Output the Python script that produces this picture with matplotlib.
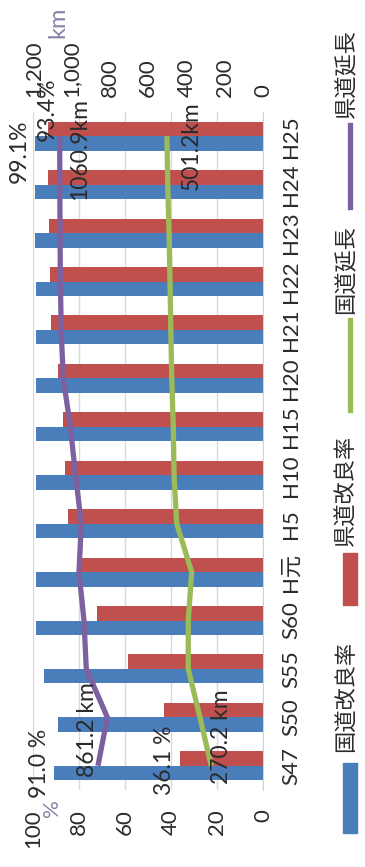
import numpy as np
import matplotlib.pyplot as plt
from matplotlib.patches import Rectangle
from matplotlib.lines import Line2D

plt.rcParams['font.family'] = ['Lato', 'Noto Sans CJK JP', 'DejaVu Sans']

years = ["S47", "S50", "S55", "S60", "H元", "H5", "H10", "H15", "H20", "H21", "H22", "H23", "H24", "H25"]
kokudo_rate = [91.0, 89.0, 95.2, 98.7, 98.8, 98.7, 98.7, 98.8, 98.8, 98.9, 98.9, 99.1, 99.1, 99.1]
kendo_rate = [36.1, 43.0, 58.7, 72.2, 79.6, 84.8, 86.1, 86.9, 89.1, 92.3, 92.6, 93.0, 93.5, 93.4]
kokudo_len = [270.2, 329, 390, 390, 372, 450, 464, 468, 476, 481, 485, 490, 497, 501.2]
kendo_len = [861.2, 812, 922, 934, 960, 948, 978, 1005, 1042, 1053, 1057, 1059, 1060, 1060.9]

pct_ticks = [0, 20, 40, 60, 80, 100]
km_ticks = [0, 200, 400, 600, 800, 1000, 1200]
km_labels = ["0", "200", "400", "600", "800", "1,000", "1,200"]

BLUE = "#4a7ebb"
RED = "#c0504d"
GREEN = "#9bbb59"
PURPLE = "#7d60a0"
TXT = "#2b2b2b"
UNIT = "#8484a6"
FS = 16

W, H = 365, 867
fig = plt.figure(figsize=(W / 100, H / 100), dpi=100)
ax = fig.add_axes([33 / W, 1 - 790 / H, 230 / W, 678 / H])

y = np.arange(len(years))
bw = 0.30
ax.barh(y - bw / 2, kokudo_rate, height=bw, color=BLUE, zorder=2)
ax.barh(y + bw / 2, kendo_rate, height=bw, color=RED, zorder=2)
ax.set_xlim(100, 0)
ax.set_ylim(-0.5, len(years) - 0.5)
ax.set_xticks(pct_ticks)
ax.set_xticklabels([str(t) for t in pct_ticks], rotation=90, fontsize=FS, color=TXT)
ax.tick_params(axis='x', length=0, pad=14)
ax.set_yticks(y)
ax.set_yticklabels(years, rotation=90, va='center', fontsize=FS, color=TXT)
ax.yaxis.tick_right()
ax.tick_params(axis='y', length=0, pad=13)
ax.grid(axis='x', color='#d9d9d9', lw=1, zorder=0)
ax.set_axisbelow(True)
for s in ['top', 'bottom', 'left']:
    ax.spines[s].set_visible(False)
ax.spines['right'].set_color('#c8d4e4')

ax2 = ax.twiny()
ax2.plot(kokudo_len, y, color=GREEN, lw=3.8, solid_capstyle='butt', zorder=3)
ax2.plot(kendo_len, y, color=PURPLE, lw=3.8, solid_capstyle='butt', zorder=3)
ax2.set_xlim(1200, 0)
ax2.set_xticks(km_ticks)
ax2.set_xticklabels(km_labels, rotation=90, fontsize=FS, color=TXT)
ax2.tick_params(axis='x', length=0, pad=11)
for s in ax2.spines.values():
    s.set_visible(False)


def note(text, xy, off, trans):
    ax2.annotate(text, xy=xy, xycoords=trans, xytext=(off[0] * 0.72, off[1] * 0.72),
                 textcoords='offset points', rotation=90, ha='center', va='center',
                 fontsize=FS + 0.5, color=TXT, zorder=5)


last = len(years) - 1
note("%.1f %%" % kokudo_rate[0], (kokudo_rate[0], -bw / 2), (-14, 10), ax.transData)
note("%.1f %%" % kendo_rate[0], (kendo_rate[0], bw / 2), (-15, -2), ax.transData)
note("%.1f km" % kendo_len[0], (kendo_len[0], 0), (-10, 36), ax2.transData)
note("%.1f km" % kokudo_len[0], (kokudo_len[0], 0), (10, 29), ax2.transData)
note("%.1f%%" % kokudo_rate[last], (kokudo_rate[last], last - bw / 2), (-16, -8), ax.transData)
note("%.1f%%" % kendo_rate[last], (kendo_rate[last], last + bw / 2), (-1, 20), ax.transData)
note("%.1fkm" % kendo_len[last], (kendo_len[last], last), (20, -13), ax2.transData)
note("%.1fkm" % kokudo_len[last], (kokudo_len[last], last), (24, -9), ax2.transData)

# axis units
fig.text(52 / W, 1 - 808 / H, "%", rotation=90, ha='center', va='center', fontsize=FS, color=UNIT)
fig.text(58 / W, 1 - 22 / H, "km", rotation=90, ha='center', va='center', fontsize=FS + 1, color=UNIT)

# legend, drawn sideways along the right edge
lx = 350 / W
fig.add_artist(Rectangle((343 / W, 1 - 833 / H), 14 / W, 70 / H, color=BLUE, transform=fig.transFigure))
fig.add_artist(Rectangle((343 / W, 1 - 605 / H), 14 / W, 52 / H, color=RED, transform=fig.transFigure))
fig.add_artist(Line2D([lx, lx], [1 - 410 / H, 1 - 320 / H], color=GREEN, lw=3.8, transform=fig.transFigure))
fig.add_artist(Line2D([lx, lx], [1 - 207 / H, 1 - 125 / H], color=PURPLE, lw=3.8, transform=fig.transFigure))
for label, ty in [("国道改良率", 696), ("県道改良率", 490), ("国道延長", 270), ("県道延長", 74)]:
    fig.text(346 / W, 1 - ty / H, label, rotation=90, ha='center', va='center',
             fontsize=FS, color=TXT)

fig.savefig("out.png", dpi=100)
